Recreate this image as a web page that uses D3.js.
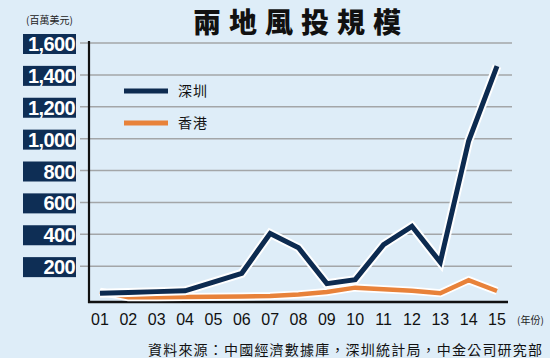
<!DOCTYPE html>
<html><head><meta charset="utf-8">
<script src="https://cdn.jsdelivr.net/npm/d3@7"></script>
<style>
html,body{margin:0;padding:0;background:#deedf8;}
svg{display:block;}
</style></head>
<body>
<script>
const years = ["01","02","03","04","05","06","07","08","09","10","11","12","13","14","15"];
const shenzhen = [30,35,40,45,100,155,405,315,90,115,335,450,225,985,1455];
const hongkong = [40,5,5,6,8,10,12,22,38,65,55,45,30,112,44];
const yTicks = [200,400,600,800,1000,1200,1400,1600];
const seriesNames = ["深圳","香港"];
const colors = ["#0d2b50","#e8823a"];

const W=550,H=358;
const svg=d3.select("body").append("svg").attr("width",W).attr("height",H);
svg.append("rect").attr("width",W).attr("height",H).attr("fill","#deedf8");

const x=d3.scalePoint().domain(years).range([100,497]);
const y=d3.scaleLinear().domain([0,1600]).range([298,43]);
const cjk='"Noto Sans CJK TC","Noto Sans CJK SC",sans-serif';

// title
svg.append("text").attr("x",193).attr("y",33).attr("font-family",cjk).attr("font-weight",900)
  .attr("font-size",28).attr("letter-spacing",8).attr("fill","#111").text("兩地風投規模");
svg.append("text").attr("x",26).attr("y",24).attr("font-family",cjk).attr("font-size",10)
  .attr("fill","#222").text("(百萬美元)");

// gridlines
svg.append("g").selectAll("line").data(yTicks).join("line")
  .attr("x1",80).attr("x2",512).attr("y1",d=>y(d)).attr("y2",d=>y(d))
  .attr("stroke","#a3a6a8").attr("stroke-width",1.5);

// y tick boxes
const tg=svg.append("g").selectAll("g").data(yTicks).join("g");
tg.append("rect").attr("x",23).attr("width",53).attr("y",d=>y(d)-9).attr("height",20).attr("fill","#0e2e55");
tg.append("text").attr("x",75).attr("y",d=>y(d)+8).attr("text-anchor","end")
  .attr("font-family","'Liberation Sans',Arial,sans-serif").attr("font-weight","bold")
  .attr("font-size",20).attr("letter-spacing",-0.6).attr("fill","#fff").text(d=>d3.format(",")(d));

// axes
svg.append("line").attr("x1",89).attr("x2",89).attr("y1",41).attr("y2",303).attr("stroke","#111").attr("stroke-width",2.2);
svg.append("line").attr("x1",88).attr("x2",508).attr("y1",302).attr("y2",302).attr("stroke","#111").attr("stroke-width",2.6);

// x labels
svg.append("g").selectAll("text").data(years).join("text")
  .attr("x",d=>x(d)).attr("y",325).attr("text-anchor","middle")
  .attr("font-family","'Liberation Sans',Arial,sans-serif").attr("font-size",16).attr("fill","#111").text(d=>d);
svg.append("text").attr("x",517).attr("y",324).attr("font-family",cjk).attr("font-size",10).attr("fill","#222").text("(年份)");

// lines
const line=d3.line().x((d,i)=>x(years[i])).y(d=>y(d));
[hongkong,shenzhen].forEach((data,k)=>{
  const c = k===0?colors[1]:colors[0];
  svg.append("path").attr("d",line(data)).attr("fill","none").attr("stroke","#fff")
    .attr("stroke-width",k===0?8:9).attr("stroke-linejoin","miter");
  svg.append("path").attr("d",line(data)).attr("fill","none").attr("stroke",c)
    .attr("stroke-width",k===0?4.5:5).attr("stroke-linejoin","miter");
});

// legend
const lg=svg.append("g").selectAll("g").data(seriesNames).join("g")
  .attr("transform",(d,i)=>`translate(0,${91+i*32})`);
lg.append("line").attr("x1",124).attr("x2",168).attr("stroke",(d,i)=>colors[i]).attr("stroke-width",5);
lg.append("text").attr("x",178).attr("y",5).attr("font-family",cjk).attr("font-size",14)
  .attr("letter-spacing",1).attr("fill","#111").text(d=>d);

// source
svg.append("text").attr("x",148).attr("y",355).attr("font-family",cjk).attr("font-size",14)
  .attr("letter-spacing",1.2).attr("fill","#111").text("資料來源：中國經濟數據庫，深圳統計局，中金公司研究部");
</script>
</body></html>
